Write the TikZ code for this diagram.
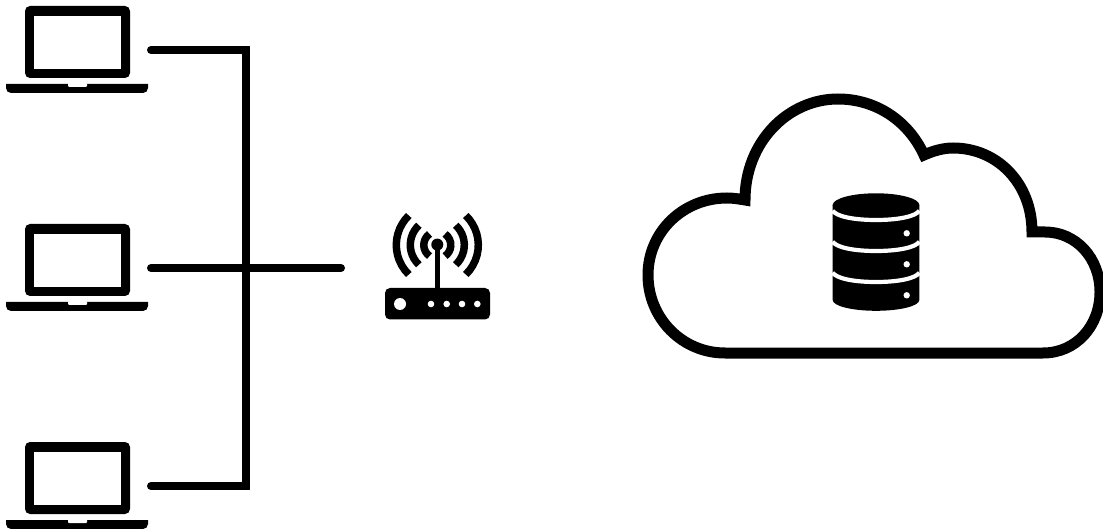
\documentclass[tikz,border=0pt]{standalone}
\tikzset{
  hub/.style={inner sep=0pt,outer sep=0pt,minimum width=148pt,minimum height=86pt},
  wire/.style={line width=8pt,line cap=round,line join=miter,black},
  cloudline/.style={line width=11pt,line join=miter,miter limit=10,black},
  waveline/.style={line width=7.5pt,line cap=butt,black},
  dbband/.style={line width=4.2pt,white},
  laptop/.pic={
    \fill[black,rounded corners=5pt] (-52,-44) rectangle (53,28);
    \fill[white] (-43,-34) rectangle (44,19);
    \fill[black] (-71,34) -- (71,34) -- (71,38) arc[start angle=0,end angle=90,radius=5pt,x radius=5pt,y radius=-5pt] -- (-66,43) arc[start angle=90,end angle=180,radius=5pt,x radius=5pt,y radius=-5pt] -- cycle;
    \fill[white,rounded corners=1pt] (-9,33) -- (-9,37) -- (10,37) -- (10,33) -- cycle;
  },
}
\begin{document}
\begin{tikzpicture}[x=1pt,y=-1pt]
\useasboundingbox (0,0) rectangle (1103,529);
\clip (0,0) rectangle (1103,529);
% laptops
\node[hub] (lapA) at (77,50) {};
\node[hub] (lapB) at (77,268) {};
\node[hub] (lapC) at (77,486) {};
\pic at (lapA.center) {laptop};
\pic at (lapB.center) {laptop};
\pic at (lapC.center) {laptop};
% connectors
\coordinate (busTop) at (246,50);
\coordinate (busBottom) at (246,486);
\coordinate (routerEnd) at (341,268);
\draw[wire] (lapA.east) -- (busTop) -- (busBottom) -- (lapC.east);
\draw[wire] (lapB.east) -- (routerEnd);
% router
\fill[black,rounded corners=5pt] (385,288) rectangle (490,319.5);
\fill[white] (400,304) circle[radius=6pt];
\foreach \px in {431,446.7,462,477.3} \fill[white] (\px,304) circle[radius=3.3pt];
\draw[black,line width=5.5pt] (437.3,244) -- (437.3,289);
\fill[black] (437.3,244.6) circle[radius=6pt];
\foreach \rr/\aa in {13.5/55,27/47,41/46} {
  \draw[waveline] (437.3,245) ++(180-\aa:\rr pt) arc[start angle=180-\aa,end angle=180+\aa,radius=\rr pt];
  \draw[waveline] (437.3,245) ++(\aa:\rr pt) arc[start angle=\aa,end angle=-\aa,radius=\rr pt];
}
% cloud
\draw[cloudline] (1043,353) -- (725,353)
  .. controls (682,353) and (648,318) .. (648,275)
  .. controls (648,232) and (683,198) .. (727,198)
  .. controls (733,198) and (739,199) .. (745,200)
  .. controls (745,142) and (788,99) .. (838,99)
  .. controls (875,99) and (908,120) .. (924,155)
  .. controls (933,151) and (943,148) .. (953,148)
  .. controls (997,148) and (1032,183) .. (1032,232)
  -- (1045,232)
  .. controls (1076,232) and (1100,258) .. (1100,292)
  .. controls (1100,326) and (1076,353) .. (1043,353) -- cycle;
% database
\fill[black] (832.7,205) -- (832.7,300) .. controls (832.7,306) and (852,310.8) .. (876,310.8)
  .. controls (900,310.8) and (919.3,306) .. (919.3,300) -- (919.3,205) -- cycle;
\fill[black] (876,205) ellipse[x radius=43.3pt,y radius=11.7pt];
\draw[dbband] (832.7,210.7) .. controls (836,216) and (852,220) .. (876,220) .. controls (900,220) and (916,216) .. (919.3,210.7);
\draw[dbband] (832.7,241.7) .. controls (836,247) and (852,251) .. (876,251) .. controls (900,251) and (916,247) .. (919.3,241.7);
\draw[dbband] (832.7,272.7) .. controls (836,278) and (852,282) .. (876,282) .. controls (900,282) and (916,278) .. (919.3,272.7);
\foreach \py in {233.3,264.3,295.3} \fill[white] (906.7,\py) circle[radius=3.2pt];
\end{tikzpicture}
\end{document}
